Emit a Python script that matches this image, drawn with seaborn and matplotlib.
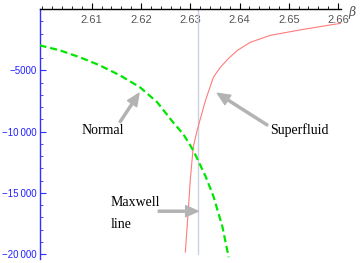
import numpy as np
import pandas as pd
import matplotlib
matplotlib.use("Agg")
import matplotlib.pyplot as plt
from matplotlib.ticker import MultipleLocator, FixedLocator
import seaborn as sns

sns.set_style("white")
plt.rcParams['font.family'] = ['Liberation Sans', 'DejaVu Sans']

# normal phase (green dashed)
beta_normal = [2.5994, 2.6035, 2.6076, 2.6116, 2.6157, 2.6198, 2.6233, 2.6265,
               2.6286, 2.6306, 2.6331, 2.6347, 2.6365, 2.6378]
f_normal = [-2961, -3369, -3940, -4592, -5408, -6387, -7610, -9241,
            -10220, -11525, -13646, -15277, -17724, -20253]

# superfluid phase (red)
beta_super = [2.6290, 2.6296, 2.6300, 2.6306, 2.6314, 2.6331, 2.6347, 2.6361,
              2.6378, 2.6396, 2.6422, 2.6463, 2.6524, 2.6580, 2.6606]
f_super = [-19845, -16419, -13972, -11280, -9894, -7447, -5571, -4755,
           -4021, -3369, -2716, -2145, -1700, -1330, -1166]

beta_maxwell = 2.6315

xticks = [2.61, 2.62, 2.63, 2.64, 2.65, 2.66]
yticks = [-5000, -10000, -15000, -20000]
ylabels = ["\u22125000", "\u221210\u2009000", "\u221215\u2009000", "\u221220\u2009000"]

df_n = pd.DataFrame({"beta": beta_normal, "f": f_normal})
df_s = pd.DataFrame({"beta": beta_super, "f": f_super})

fig = plt.figure(figsize=(3.6, 2.63), dpi=100)
ax = fig.add_axes([40/360, 1-259/263, 301/360, 250/263])

ax.plot([beta_maxwell, beta_maxwell], [-20000, 0], color="#c9d1e3", lw=1.0, zorder=1)
sns.lineplot(data=df_s, x="beta", y="f", sort=False, ax=ax, color="#ff7b7b", lw=0.8, zorder=2)
sns.lineplot(data=df_n, x="beta", y="f", sort=False, ax=ax, color="#00e600", lw=1.6, zorder=3)
ax.lines[-1].set_dashes((3.2, 1.7))

ax.set_xlim(2.5995, 2.6606)
ax.set_ylim(-20400, 0)
ax.set_xlabel("")
ax.set_ylabel("")

for s in ["top", "right"]:
    ax.spines[s].set_visible(False)
ax.spines["bottom"].set_position(("data", 0))
ax.spines["bottom"].set_color("black")
ax.spines["bottom"].set_linewidth(1.0)
ax.spines["left"].set_color("#3030ff")
ax.spines["left"].set_linewidth(1.0)

ax.xaxis.set_major_locator(FixedLocator(xticks))
ax.xaxis.set_minor_locator(MultipleLocator(0.002))
ax.set_xticklabels([f"{t:.2f}" for t in xticks])
ax.yaxis.set_major_locator(FixedLocator(yticks))
ax.yaxis.set_minor_locator(MultipleLocator(1000))
ax.set_yticklabels(ylabels)

ax.tick_params(axis="x", which="both", direction="in", bottom=True, color="black",
               labelcolor="#555555", labelsize=8, pad=4)
ax.tick_params(axis="x", which="major", length=4, width=0.8)
ax.tick_params(axis="x", which="minor", length=2.5, width=0.6)
ax.tick_params(axis="y", which="both", direction="in", left=True, color="#3030ff",
               labelcolor="#2020ff", labelsize=7, pad=2.5)
ax.tick_params(axis="y", which="major", length=4, width=0.8)
ax.tick_params(axis="y", which="minor", length=2.5, width=0.6)

ax.text(1.035, 0.985, "\u03b2", transform=ax.transAxes, fontsize=9, style="italic",
        color="#555555", ha="center", va="center", family=["DejaVu Serif"])

arrow = dict(facecolor="#b3b3b3", edgecolor="#b3b3b3", width=1.5, headwidth=8, headlength=9)
serif = dict(family="Liberation Serif", fontsize=10, color="black")

ax.annotate("", xy=(2.6196, -6876), xytext=(2.6157, -9241), arrowprops=arrow)
ax.text(2.6122, -9894, "Normal", ha="center", va="center", **serif)

ax.annotate("", xy=(2.6355, -6876), xytext=(2.6457, -9486), arrowprops=arrow)
ax.text(2.6463, -9894, "Superfluid", ha="left", va="center", **serif)

ax.annotate("", xy=(2.6316, -16500), xytext=(2.6235, -16500), arrowprops=arrow)
ax.text(2.6139, -16650, "Maxwell\nline", ha="left", va="center", linespacing=1.9, **serif)

fig.savefig("out.png", dpi=100)
